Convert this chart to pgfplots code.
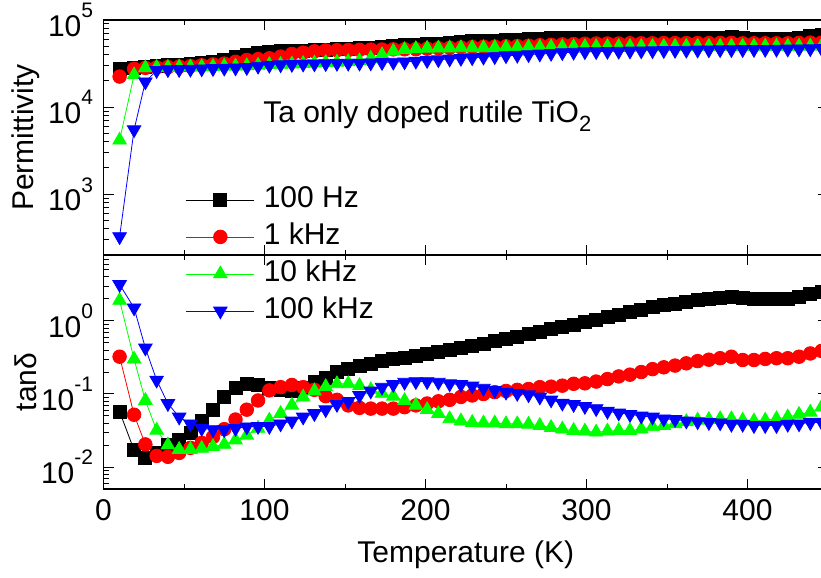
\documentclass[border=0pt]{standalone}
\usepackage{pgfplots}
\pgfplotsset{compat=1.18}
\usepackage{pgfplotstable}
\usepackage{fontspec}
\setmainfont{Liberation Sans}
\definecolor{cred}{RGB}{255,0,0}
\definecolor{cgreen}{RGB}{0,255,0}
\definecolor{cblue}{RGB}{0,0,255}
\newcommand{\expo}[1]{\raisebox{0.62em}{\fontsize{10.5}{12}\selectfont #1}}

% Permittivity (T, 100 Hz, 1 kHz, 10 kHz, 100 kHz)
\pgfplotstableread{
T bk rd gr bl
10 27300 22400 4170 325
19 28200 27500 23400 5500
26 28800 28200 28200 19500
33 29500 28500 28500 26300
40 30200 28800 28500 26900
47 30900 29200 28800 27000
54 31600 29500 28800 27200
61 32400 30200 29000 27500
68 33100 30900 29200 27700
75 34700 31600 29500 28000
82 37200 33100 29500 28200
89 39800 34700 29800 28500
96 41700 35500 30200 29500
103 43200 36300 30700 30200
110 43700 38000 30900 30600
117 44200 40700 31200 30900
124 44700 42200 31600 31200
131 45200 43700 32000 31400
138 45700 44700 32400 31600
145 46200 45000 32700 31800
152 46800 45200 33100 31900
159 47500 45400 33900 32000
166 48400 45700 36300 32200
173 49000 45800 39800 32500
180 50100 46000 43700 32800
187 51300 46100 45700 33100
194 51900 46200 46800 33700
201 52500 46800 47300 34300
208 53700 47300 47500 35000
215 55000 47900 47700 35700
222 56200 48400 47900 36300
229 56900 49000 47900 36900
236 57500 49300 47900 37500
243 58200 49500 48200 38000
250 58900 49800 48400 38900
257 59600 50100 48400 39400
264 60300 50700 48700 40000
271 61000 51300 48700 40700
278 61700 51900 49000 41400
285 62000 52500 49000 42200
292 62200 53000 49200 42700
299 62400 53400 49300 43200
306 62400 53700 49300 43400
313 62600 53700 49400 43600
320 62600 53700 49400 43800
327 62800 54000 49500 44000
334 62800 54000 49500 44200
341 63000 54000 49600 44400
348 63000 54300 49600 44600
355 63100 54300 49700 44800
362 63100 54300 49700 45000
369 63100 54300 49800 45200
376 63100 54300 49800 45400
383 63100 54500 49800 45600
390 63300 54500 49900 45700
397 61500 54000 49800 45800
404 61200 54000 49800 45900
411 61000 54000 49800 46000
418 61000 54000 49900 46200
425 61200 54000 49900 46400
432 63100 54500 50000 46600
439 65300 55000 50100 46800
446 67600 55000 50200 47000
}\eps

% tan delta (T, 100 Hz, 1 kHz, 10 kHz, 100 kHz)
\pgfplotstableread{
T bk rd gr bl
10 0.0575 0.324 1.91 3.16
19 0.017 0.052 0.30 1.51
26 0.0135 0.0204 0.0815 0.427
33 0.0155 0.0142 0.0318 0.155
40 0.0204 0.0138 0.020 0.074
47 0.0234 0.0156 0.0174 0.0484
54 0.0295 0.0183 0.0174 0.039
61 0.0427 0.0214 0.018 0.0338
68 0.060 0.0258 0.019 0.0325
75 0.091 0.033 0.0204 0.0325
82 0.120 0.0447 0.0234 0.0338
89 0.138 0.061 0.0272 0.0355
96 0.133 0.0815 0.0338 0.036
103 0.120 0.112 0.0437 0.036
110 0.112 0.124 0.054 0.039
117 0.110 0.133 0.070 0.0427
124 0.123 0.124 0.091 0.0484
131 0.145 0.114 0.11 0.054
138 0.166 0.0933 0.126 0.061
145 0.200 0.0832 0.138 0.072
152 0.219 0.0698 0.138 0.0794
159 0.245 0.0646 0.130 0.0955
166 0.257 0.0631 0.114 0.11
173 0.282 0.0631 0.102 0.124
180 0.302 0.0631 0.093 0.135
187 0.316 0.066 0.081 0.145
194 0.331 0.0698 0.070 0.148
201 0.355 0.0741 0.061 0.148
208 0.380 0.0794 0.054 0.145
215 0.398 0.0832 0.0457 0.138
222 0.427 0.0912 0.0427 0.135
229 0.457 0.0955 0.0407 0.129
236 0.479 0.100 0.040 0.12
243 0.525 0.106 0.040 0.112
250 0.562 0.110 0.039 0.106
257 0.603 0.114 0.039 0.102
264 0.661 0.117 0.0385 0.0977
271 0.708 0.124 0.037 0.091
278 0.776 0.126 0.0347 0.083
285 0.832 0.130 0.033 0.075
292 0.891 0.138 0.0316 0.072
299 0.977 0.140 0.031 0.0676
306 1.047 0.148 0.030 0.063
313 1.135 0.160 0.031 0.058
320 1.216 0.174 0.0316 0.055
327 1.318 0.184 0.0316 0.0525
334 1.429 0.200 0.033 0.050
341 1.549 0.219 0.0355 0.0484
348 1.641 0.232 0.037 0.0457
355 1.738 0.245 0.039 0.0447
362 1.841 0.263 0.0417 0.0427
369 1.950 0.282 0.0437 0.0417
376 2.018 0.295 0.0447 0.0407
383 2.089 0.309 0.0457 0.0403
390 2.163 0.324 0.0457 0.0385
397 2.042 0.292 0.0437 0.0385
404 1.995 0.292 0.0427 0.037
411 1.995 0.302 0.0437 0.037
418 1.995 0.309 0.0457 0.037
425 1.995 0.309 0.0484 0.0385
432 2.138 0.324 0.0525 0.039
439 2.344 0.359 0.0562 0.0407
446 2.512 0.389 0.066 0.041
}\tand

\pgfplotsset{
  mycommon/.style={
    scale only axis, width=362.25pt,
    xmin=0, xmax=450,
    xtick={0,100,200,300,400}, minor x tick num=1,
    tick align=inside,
    major tick length=5pt, minor tick length=2.5pt,
    every tick/.style={black, line width=0.5pt},
    axis line style={line width=0.6pt},
    /pgf/number format/assume math mode=true,
    tick label style={font=\fontsize{15}{18}\selectfont},
    label style={font=\fontsize{15}{18}\selectfont},
    every axis plot/.append style={line width=0.4pt},
    legend image code/.code={\draw[mark repeat=2,mark phase=2,##1] plot coordinates {(0pt,0pt) (17pt,0pt) (34pt,0pt)};},
  },
  sBk/.style={black, mark=square*, mark size=3.25pt, mark options={solid}},
  sRd/.style={cred, mark=*, mark size=3.4pt, mark options={solid}},
  sGr/.style={cgreen, mark=triangle*, mark size=3.9pt, mark options={solid}},
  sBl/.style={cblue, mark=triangle*, mark size=3.9pt, mark options={solid, rotate=180}},
}

\begin{document}
\fontsize{15}{18}\selectfont
\begin{tikzpicture}
\begin{axis}[ymode=log, mycommon, name=top, at={(0,0)}, anchor=south west,
  height=117.5pt, ymin=200, ymax=1e5,
  xticklabels={},
  ytick={1e3,1e4,1e5},
  yticklabels={10\expo{3},10\expo{4},10\expo{5}},
  minor ytick={200,300,400,500,600,700,800,900,2000,3000,4000,5000,6000,7000,8000,9000,20000,30000,40000,50000,60000,70000,80000,90000},
  ylabel={Permittivity},
  ylabel style={at={(axis description cs:-0.107,0.5)}, anchor=center},
]
\addplot[sBk] table[x=T,y=bk]{\eps};
\addplot[sRd] table[x=T,y=rd]{\eps};
\addplot[sGr] table[x=T,y=gr]{\eps};
\addplot[sBl] table[x=T,y=bl]{\eps};
\node[anchor=base west, inner sep=0pt] at (rel axis cs:0.220,0.562) {Ta only doped rutile TiO\raisebox{-0.3em}{\fontsize{11}{12}\selectfont 2}};
\end{axis}
\begin{axis}[ymode=log, mycommon, name=bot, at={(top.south west)}, anchor=north west,
  height=117pt, ymin=0.005, ymax=8,
  ytick={0.01,0.1,1},
  yticklabels={10\expo{-2},10\expo{-1},10\expo{0}},
  minor ytick={0.005,0.006,0.007,0.008,0.009,0.02,0.03,0.04,0.05,0.06,0.07,0.08,0.09,0.2,0.3,0.4,0.5,0.6,0.7,0.8,0.9,2,3,4,5,6,7,8},
  xlabel={Temperature (K)},
  ylabel={tanδ},
  ylabel style={at={(axis description cs:-0.107,0.457)}, anchor=center},
  legend cell align=left,
  legend style={draw=none, fill=none, at={(axis description cs:0.105,1.3226)}, anchor=north west,
    font=\fontsize{15}{18}\selectfont, row sep=2.5pt,
    nodes={inner sep=1pt, text height=11pt, text depth=3pt},
    /tikz/every odd column/.append style={column sep=3.5pt}},
]
\addplot[sBk] table[x=T,y=bk]{\tand};
\addplot[sRd] table[x=T,y=rd]{\tand};
\addplot[sGr] table[x=T,y=gr]{\tand};
\addplot[sBl] table[x=T,y=bl]{\tand};
\legend{100 Hz, 1 kHz, 10 kHz, 100 kHz}
\end{axis}
\pgfresetboundingbox
\useasboundingbox ([xshift=-51.75pt,yshift=-44pt]bot.south west) rectangle ([xshift=-3.5pt,yshift=10pt]top.north east);
\end{tikzpicture}
\end{document}
